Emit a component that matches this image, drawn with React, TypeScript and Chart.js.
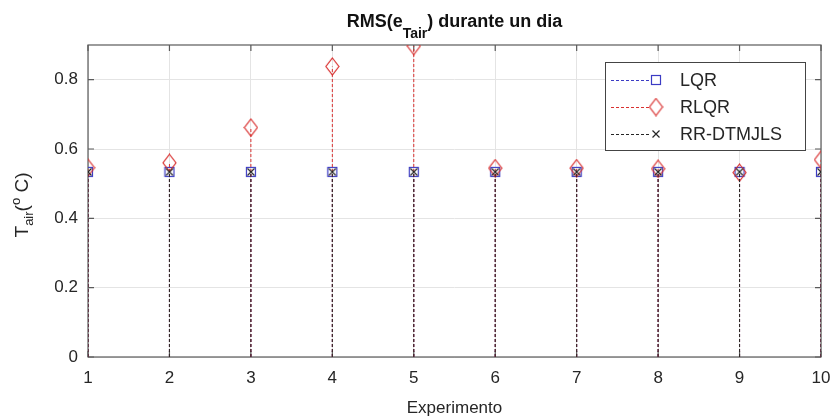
import React, { useEffect, useRef } from "react";
import { Chart, registerables } from "chart.js";
Chart.register(...registerables);

const experiments = [1, 2, 3, 4, 5, 6, 7, 8, 9, 10];
const lqrValues = [0.534, 0.534, 0.534, 0.534, 0.534, 0.534, 0.534, 0.534, 0.534, 0.534];
const rlqrValues = [0.546, 0.56, 0.662, 0.838, 0.897, 0.545, 0.545, 0.543, 0.532, 0.569];
const rrValues = [0.534, 0.534, 0.534, 0.534, 0.534, 0.534, 0.534, 0.534, 0.534, 0.534];
const yTickValues = [0, 0.2, 0.4, 0.6, 0.8];
const seriesNames = ["LQR", "RLQR", "RR-DTMJLS"];
const titleMain = "RMS(e";
const titleSub = "Tair";
const titleEnd = ") durante un dia";
const xTitle = "Experimento";

const FONT = "'Liberation Sans', Arial, Helvetica, sans-serif";
const BLUE = "#3c3cc4";
const RED = "#d9302f";
const BLACK = "#262626";
const AXIS = "#5a5a5a";

function makeSquare() {
  const c = document.createElement("canvas");
  c.width = 12; c.height = 12;
  const g = c.getContext("2d")!;
  g.strokeStyle = BLUE; g.lineWidth = 1.2;
  g.strokeRect(1.5, 1.5, 9, 9);
  return c;
}
function makeDiamond() {
  const c = document.createElement("canvas");
  c.width = 15; c.height = 19;
  const g = c.getContext("2d")!;
  g.strokeStyle = RED; g.lineWidth = 1.2;
  g.beginPath();
  g.moveTo(7.5, 1); g.lineTo(14, 9.5); g.lineTo(7.5, 18); g.lineTo(1, 9.5); g.closePath();
  g.stroke();
  return c;
}
function makeCross() {
  const c = document.createElement("canvas");
  c.width = 10; c.height = 10;
  const g = c.getContext("2d")!;
  g.strokeStyle = BLACK; g.lineWidth = 1.2;
  g.beginPath();
  g.moveTo(1.5, 1.5); g.lineTo(8.5, 8.5); g.moveTo(8.5, 1.5); g.lineTo(1.5, 8.5);
  g.stroke();
  return c;
}

const stem = (vals: number[]) =>
  experiments.flatMap((x, i) => [
    { x, y: 0 },
    { x, y: vals[i] },
    { x, y: null as any },
  ]);

export default function App() {
  const ref = useRef<HTMLCanvasElement>(null);
  useEffect(() => {
    const sq = makeSquare();
    const di = makeDiamond();
    const cr = makeCross();
    const markers = [sq, di, cr];
    const colors = [BLUE, RED, BLACK];

    const decor = {
      id: "decor",
      beforeDatasetsDraw(chart: any) {
        const { ctx, chartArea: a, scales } = chart;
        ctx.save();
        ctx.strokeStyle = AXIS;
        ctx.lineWidth = 1.2;
        ctx.strokeRect(a.left, a.top, a.right - a.left, a.bottom - a.top);
        ctx.beginPath();
        for (const v of experiments) {
          const px = scales.x.getPixelForValue(v);
          ctx.moveTo(px, a.bottom); ctx.lineTo(px, a.bottom - 6);
          ctx.moveTo(px, a.top); ctx.lineTo(px, a.top + 6);
        }
        for (const v of yTickValues) {
          const py = scales.y.getPixelForValue(v);
          ctx.moveTo(a.left, py); ctx.lineTo(a.left + 6, py);
          ctx.moveTo(a.right, py); ctx.lineTo(a.right - 6, py);
        }
        ctx.stroke();
        ctx.restore();
      },
      afterDraw(chart: any) {
        const { ctx, chartArea: a } = chart;
        ctx.save();
        // Title
        const cx = (a.left + a.right) / 2;
        ctx.fillStyle = "#111";
        ctx.textBaseline = "alphabetic";
        ctx.textAlign = "left";
        ctx.font = `bold 18px ${FONT}`;
        const w1 = ctx.measureText(titleMain).width;
        const w3 = ctx.measureText(titleEnd).width;
        ctx.font = `bold 14px ${FONT}`;
        const w2 = ctx.measureText(titleSub).width;
        let x0 = cx - (w1 + w2 + w3) / 2;
        ctx.font = `bold 18px ${FONT}`;
        ctx.fillText(titleMain, x0, 27);
        ctx.font = `bold 14px ${FONT}`;
        ctx.fillText(titleSub, x0 + w1, 38);
        ctx.font = `bold 18px ${FONT}`;
        ctx.fillText(titleEnd, x0 + w1 + w2, 27);

        // X title
        ctx.fillStyle = BLACK;
        ctx.textAlign = "center";
        ctx.font = `17px ${FONT}`;
        ctx.fillText(xTitle, cx, 413);

        // Y title (rotated)
        ctx.save();
        ctx.translate(28, (a.top + a.bottom) / 2 + 4);
        ctx.rotate(-Math.PI / 2);
        ctx.textAlign = "left";
        ctx.font = `19px ${FONT}`;
        const p1 = "T", p2 = "air", p3 = "(", p4 = "o", p5 = " C)";
        const wp1 = ctx.measureText(p1).width;
        const wp3 = ctx.measureText(p3).width;
        const wp5 = ctx.measureText(p5).width;
        ctx.font = `13px ${FONT}`;
        const wp2 = ctx.measureText(p2).width;
        const wp4 = ctx.measureText(p4).width;
        let s = -(wp1 + wp2 + wp3 + wp4 + wp5) / 2;
        ctx.font = `19px ${FONT}`;
        ctx.fillText(p1, s, 0); s += wp1;
        ctx.font = `13px ${FONT}`;
        ctx.fillText(p2, s, 5); s += wp2;
        ctx.font = `19px ${FONT}`;
        ctx.fillText(p3, s, 0); s += wp3;
        ctx.font = `13px ${FONT}`;
        ctx.fillText(p4, s, -8); s += wp4;
        ctx.font = `19px ${FONT}`;
        ctx.fillText(p5, s, 0);
        ctx.restore();

        // Legend
        const lx = 605, ly = 62, lw = 200, lh = 88;
        ctx.fillStyle = "#fff";
        ctx.fillRect(lx, ly, lw, lh);
        ctx.strokeStyle = "#444";
        ctx.lineWidth = 1;
        ctx.strokeRect(lx + 0.5, ly + 0.5, lw, lh);
        const rows = [80, 107, 134];
        rows.forEach((ry, i) => {
          ctx.strokeStyle = colors[i];
          ctx.lineWidth = 1;
          ctx.setLineDash([3, 2]);
          ctx.beginPath();
          ctx.moveTo(611, ry + 0.5); ctx.lineTo(651, ry + 0.5);
          ctx.stroke();
          ctx.setLineDash([]);
          const m = markers[i];
          ctx.drawImage(m, 656 - m.width / 2, ry - m.height / 2);
          ctx.fillStyle = BLACK;
          ctx.font = `18px ${FONT}`;
          ctx.textAlign = "left";
          ctx.textBaseline = "middle";
          ctx.fillText(seriesNames[i], 680, ry + 1);
        });
        ctx.restore();
      },
    };

    const mk = (label: string, vals: number[], color: string, marker: any, order: number) => ({
      label,
      data: stem(vals),
      borderColor: color,
      backgroundColor: color,
      borderWidth: 1,
      borderDash: [3, 2],
      pointStyle: marker,
      pointRadius: (c: any) => (c.dataIndex % 3 === 1 ? 6 : 0),
      pointHoverRadius: 0,
      spanGaps: false,
      order,
    });

    const chart = new Chart(ref.current!, {
      type: "line",
      data: {
        datasets: [
          mk(seriesNames[0], lqrValues, BLUE, sq, 3),
          mk(seriesNames[1], rlqrValues, RED, di, 2),
          mk(seriesNames[2], rrValues, BLACK, cr, 1),
        ] as any,
      },
      options: {
        animation: false,
        responsive: false,
        layout: { padding: { left: 0, top: 45, right: 13, bottom: 0 } },
        plugins: { legend: { display: false }, title: { display: false }, tooltip: { enabled: false } },
        scales: {
          x: {
            type: "linear",
            min: 1,
            max: 10,
            ticks: { stepSize: 1, padding: 11, color: BLACK, font: { family: FONT, size: 17 }, maxRotation: 0 },
            grid: { color: "#e4e4e4", drawTicks: false },
            border: { display: false },
            afterFit: (s: any) => { s.height = 60; s.paddingLeft = 0; s.paddingRight = 0; },
          },
          y: {
            type: "linear",
            min: 0,
            max: 0.9,
            afterBuildTicks: (s: any) => { s.ticks = yTickValues.map((v) => ({ value: v })); },
            ticks: {
              padding: 10,
              color: BLACK,
              font: { family: FONT, size: 17 },
              callback: (v: any) => String(Number(v)),
            },
            grid: { color: "#e4e4e4", drawTicks: false },
            border: { display: false },
            afterFit: (s: any) => { s.width = 88; s.paddingTop = 0; s.paddingBottom = 0; },
          },
        },
      },
      plugins: [decor],
    });
    return () => chart.destroy();
  }, []);

  return (
    <div style={{ position: "fixed", left: 0, top: 0, width: 834, height: 417, background: "#fff" }}>
      <canvas ref={ref} width={834} height={417} style={{ display: "block" }} />
    </div>
  );
}
